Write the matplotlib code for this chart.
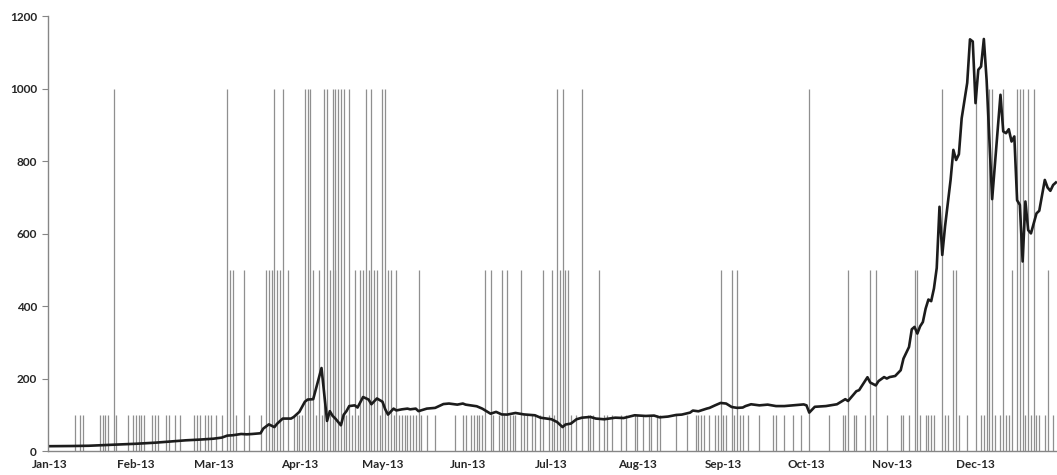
import matplotlib
matplotlib.use("Agg")
import matplotlib.pyplot as plt

# price line (day of year 2013, Jan 1 = 0)
price_days = [0, 8, 14, 20, 25, 31, 38, 44, 49, 54, 59, 62, 64, 66, 69, 71, 73, 76, 77, 79,
              81, 82, 84, 87, 88, 90, 92, 93, 95, 98, 100, 101, 102, 103, 105, 106, 107, 108,
              110, 111, 113, 115, 116, 118, 120, 121, 122, 124, 125, 127, 129, 130, 132, 133,
              136, 139, 142, 144, 147, 149, 150, 154, 156, 159, 161, 163, 165, 168, 171, 175,
              177, 181, 183, 185, 186, 188, 190, 192, 195, 197, 200, 204, 207, 211, 215, 218,
              220, 223, 226, 228, 231, 232, 234, 237, 238, 240, 242, 244, 246, 248, 250, 251,
              253, 256, 259, 262, 265, 268, 272, 273, 274, 276, 280, 284, 287, 288, 289, 291,
              292, 295, 296, 298, 299, 301, 302, 303, 305, 307, 308, 310, 311, 312, 313, 314,
              315, 316, 317, 318, 319, 320, 321, 322, 323, 325, 326, 327, 328, 329, 331, 332,
              333, 334, 335, 336, 337, 338, 340, 343, 344, 345, 346, 347, 348, 349, 350, 351,
              352, 353, 354, 356, 357, 359, 360, 361, 362, 363]
price_vals = [13.3, 13.8, 14.5, 16.5, 18, 20, 23, 26.5, 29.5, 31.5, 34, 37, 42.5, 43.5, 47, 46,
              47, 49, 62, 73.5, 66, 75.5, 89.5, 89.5, 94, 108, 136, 142, 143, 229, 83, 110, 97,
              89.5, 71, 100, 110, 124, 126, 120, 149, 142, 129, 145, 136, 115, 100.5, 117, 112,
              115, 117, 115, 117, 110, 117, 119, 129.6, 131, 128, 131, 128, 123.5, 117, 103, 108,
              101, 100.5, 105, 101, 98.6, 92, 87.6, 80, 66, 73, 75.7, 87.6, 92, 94, 89.5, 87.6,
              92, 91, 98.6, 96.7, 97.8, 93, 95, 99.5, 100.5, 106, 111.6, 109.6, 117, 119, 126,
              132.6, 131, 121.5, 119, 120, 124, 129, 126, 128, 124, 124, 126, 128.6, 126, 106,
              122, 124, 129, 143, 138, 147, 165, 168, 203.6, 189, 181, 193, 204, 200, 204, 207,
              223, 255, 287, 336, 342.5, 324, 344, 356, 393, 418, 413.5, 448.6, 505, 674, 541,
              619.5, 748, 831, 803, 819, 918, 1016, 1136, 1130, 960, 1052, 1061, 1137, 1024, 695,
              983, 882, 877, 888, 854, 868, 692, 679, 523, 688.6, 609.6, 600.5, 655.7, 663, 748,
              727, 718, 734, 741]

# event days by marker height
events_1000 = [23, 64, 81, 84, 92, 93, 94, 99, 100, 102, 103, 104, 105, 106, 108, 114, 116,
               120, 121, 183, 185, 192, 274, 322, 334, 338, 339, 340, 344, 349, 350, 351, 353, 355]
events_500 = [65, 66, 70, 78, 79, 80, 82, 83, 86, 95, 97, 101, 103, 110, 112, 113, 115, 117,
              118, 122, 123, 125, 133, 157, 159, 163, 165, 170, 178, 181, 184, 186, 187, 198,
              242, 246, 248, 288, 296, 298, 312, 313, 326, 327, 347, 360]
events_100 = [9, 11, 12, 18, 19, 20, 21, 24, 28, 30, 31, 32, 33, 34, 37, 38, 39, 42, 43, 45,
              47, 52, 53, 54, 56, 57, 58, 60, 62, 67, 72, 76, 88, 89, 90, 91, 96, 98, 107, 109,
              111, 119, 124, 126, 127, 128, 129, 130, 131, 132, 134, 136, 139, 146, 149, 150,
              152, 153, 154, 155, 156, 160, 162, 164, 166, 167, 168, 171, 172, 174, 175, 177,
              180, 182, 188, 190, 194, 195, 196, 200, 201, 203, 206, 208, 211, 212, 214, 216,
              217, 219, 220, 226, 230, 233, 234, 235, 236, 238, 240, 241, 243, 244, 247, 249,
              250, 252, 256, 261, 262, 265, 268, 271, 281, 286, 287, 290, 291, 294, 297, 302,
              307, 308, 310, 314, 316, 317, 318, 319, 323, 324, 328, 331, 336, 337, 341, 343,
              345, 346, 352, 354, 356, 357, 359, 362]

month_starts = [0, 31, 59, 90, 120, 151, 181, 212, 243, 273, 304, 334]
month_labels = ['Jan-13', 'Feb-13', 'Mar-13', 'Apr-13', 'May-13', 'Jun-13',
                'Jul-13', 'Aug-13', 'Sep-13', 'Oct-13', 'Nov-13', 'Dec-13']

plt.rcParams['font.family'] = ['Lato', 'DejaVu Sans']

fig = plt.figure(figsize=(10.57, 4.75), dpi=100)
ax = fig.add_axes([0.0454, 0.0505, 0.9546, 0.9155])

line_col = '#8f8f8f'
ax.vlines(events_100, 0, 100, color=line_col, lw=0.9)
ax.vlines(events_500, 0, 500, color=line_col, lw=0.9)
ax.vlines(events_1000, 0, 1000, color=line_col, lw=0.9)
ax.plot(price_days, price_vals, color='#1c1c1c', lw=1.9, solid_joinstyle='round')

ax.set_xlim(-0.7, 363.4)
ax.set_ylim(0, 1200)
ax.set_yticks(range(0, 1201, 200))
ax.set_xticks(month_starts)
ax.set_xticklabels(month_labels)

for s in ['top', 'right']:
    ax.spines[s].set_visible(False)
for s in ['left', 'bottom']:
    ax.spines[s].set_color('#868686')
    ax.spines[s].set_linewidth(1.0)

ax.tick_params(axis='y', length=4, color='#868686', pad=4)
ax.tick_params(axis='x', length=0, pad=6)
for lab in ax.get_xticklabels() + ax.get_yticklabels():
    lab.set_fontweight('bold')
    lab.set_fontsize(8.5)
    lab.set_color('#262626')

fig.savefig('out.png', dpi=100)
